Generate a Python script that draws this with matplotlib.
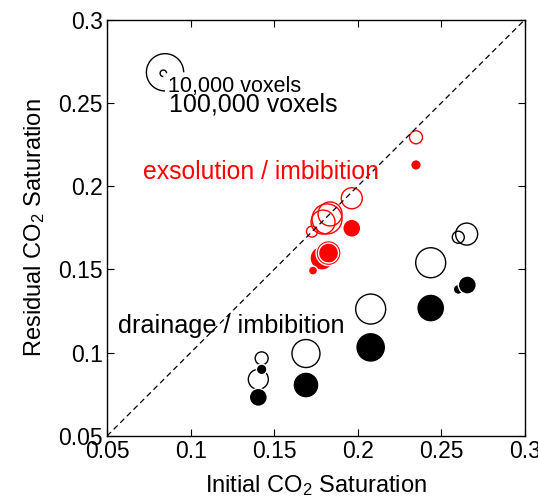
import matplotlib
matplotlib.use("Agg")
import matplotlib.pyplot as plt
from matplotlib.path import Path
from matplotlib.markers import MarkerStyle

plt.rcParams["font.family"] = ["Liberation Sans", "DejaVu Sans"]
plt.rcParams["mathtext.fontset"] = "custom"
plt.rcParams["mathtext.rm"] = "Liberation Sans"
plt.rcParams["mathtext.it"] = "Liberation Sans:italic"

DPI = 100

# drainage / imbibition (black); r = marker radius (px)
black_open_x = [0.1425, 0.1405, 0.1690, 0.2077, 0.2436, 0.2601, 0.2651]
black_open_y = [0.0966, 0.0840, 0.0995, 0.1262, 0.1540, 0.1693, 0.1712]
black_open_r = [6.5, 10, 14, 15, 15, 6, 11]

black_fill_x = [0.1425, 0.1405, 0.1690, 0.2077, 0.2436, 0.2601, 0.2655]
black_fill_y = [0.0900, 0.0732, 0.0806, 0.1032, 0.1268, 0.1380, 0.1406]
black_fill_r = [5.3, 9, 13, 15, 14, 5, 9]

# exsolution / imbibition (red)
red_open_x = [0.2348, 0.1964, 0.1834, 0.1816, 0.1792, 0.1726]
red_open_y = [0.2293, 0.1927, 0.1833, 0.1803, 0.1784, 0.1727]
red_open_r = [6.5, 10.5, 12, 15, 12, 5.5]

red_fill_x = [0.2348, 0.1964, 0.1786, 0.1825, 0.1825, 0.1732]
red_fill_y = [0.2127, 0.1747, 0.1568, 0.1598, 0.1598, 0.1493]
red_fill_r = [5.3, 9, 12, 12.5, 10, 4.5]

# size legend
legend_x = [0.0847, 0.0837]
legend_y = [0.2683, 0.2677]
legend_r = [19, 3.3]
legend_labels = ["10,000 voxels", "100,000 voxels"]

ticks = [0.05, 0.1, 0.15, 0.2, 0.25, 0.3]
tick_labels = ["0.05", "0.1", "0.15", "0.2", "0.25", "0.3"]


def area(radii):
    return [(2 * r * 72 / DPI) ** 2 for r in radii]


fig = plt.figure(figsize=(538 / DPI, 501 / DPI), dpi=DPI)
ax = fig.add_axes((107 / 538, 65 / 501, 418 / 538, 416.5 / 501))

ax.plot([0.05, 0.3], [0.05, 0.3], color="black", lw=0.9,
        dashes=(4.5, 3), zorder=3)

ax.scatter(black_open_x, black_open_y, s=area(black_open_r),
           facecolors="none", edgecolors="black", linewidths=1.0, zorder=2)
ax.scatter(black_fill_x, black_fill_y, s=area(black_fill_r),
           facecolors="black", edgecolors="white", linewidths=1.0, zorder=2)
ax.scatter(red_open_x, red_open_y, s=area(red_open_r),
           facecolors="none", edgecolors="red", linewidths=1.0, zorder=2)
ax.scatter(red_fill_x, red_fill_y, s=area(red_fill_r),
           facecolors="red", edgecolors="white", linewidths=1.0, zorder=2)

arc = MarkerStyle(Path.arc(0, 270))
ax.scatter(legend_x, legend_y, s=area(legend_r), marker=arc,
           facecolors="none", edgecolors="black", linewidths=1.0)
ax.text(0.0866, 0.2597, legend_labels[0], fontsize=15.5, va="center")
ax.text(0.0868, 0.2487, legend_labels[1], fontsize=18, va="center")

ax.text(0.0717, 0.2086, "exsolution / imbibition", color="red",
        fontsize=17.8, va="center")
ax.text(0.0568, 0.1162, "drainage / imbibition", color="black",
        fontsize=18.2, va="center", zorder=4)

ax.set_xlim(0.05, 0.3)
ax.set_ylim(0.05, 0.3)
ax.set_xticks(ticks)
ax.set_xticklabels(tick_labels)
ax.set_yticks(ticks)
ax.set_yticklabels(tick_labels)
ax.tick_params(direction="in", top=True, right=True, length=5, width=0.8,
               labelsize=16.5, pad=3)
for spine in ax.spines.values():
    spine.set_linewidth(1.0)

ax.set_xlabel("Initial CO$_2$ Saturation", fontsize=17, labelpad=7)
ax.set_ylabel("Residual CO$_2$ Saturation", fontsize=17, labelpad=8)

fig.savefig("out.png", dpi=DPI)
